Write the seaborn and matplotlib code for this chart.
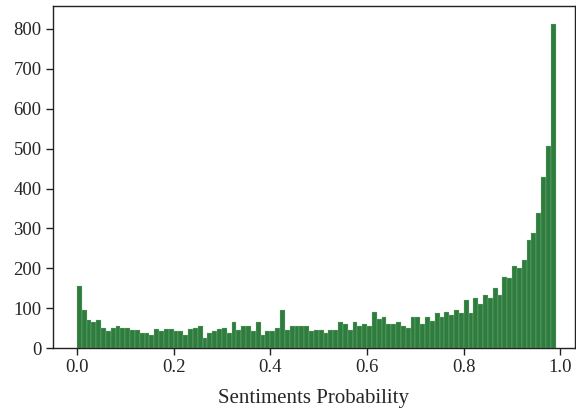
import numpy as np
import pandas as pd
import matplotlib
matplotlib.use("Agg")
import matplotlib.pyplot as plt
import seaborn as sns

# Histogram counts per 0.01-wide bin, starting at 0.00
counts = [156, 96, 70, 65, 70, 51, 43, 51, 55, 50,
          50, 47, 47, 38, 38, 33, 48, 43, 48, 48,
          43, 43, 33, 48, 51, 56, 25, 38, 43, 48,
          51, 38, 65, 46, 56, 56, 43, 67, 33, 43,
          43, 51, 96, 47, 55, 55, 55, 55, 43, 46,
          46, 38, 47, 47, 65, 60, 47, 66, 55, 60,
          56, 92, 73, 78, 60, 60, 65, 55, 51, 78,
          78, 60, 78, 69, 89, 79, 92, 84, 95, 88,
          120, 88, 125, 111, 133, 125, 151, 133, 178, 175,
          205, 200, 221, 270, 288, 339, 429, 507, 813]
bin_width = 0.01
bin_edges = [round(i * bin_width, 4) for i in range(len(counts) + 1)]
bin_centers = [(a + b) / 2 for a, b in zip(bin_edges[:-1], bin_edges[1:])]
x_ticks = [0.0, 0.2, 0.4, 0.6, 0.8, 1.0]
y_ticks = [0, 100, 200, 300, 400, 500, 600, 700, 800]
x_label = "Sentiments Probability"

df = pd.DataFrame({"prob": bin_centers, "count": counts})

sns.set_style("ticks")
plt.rcParams["font.family"] = ["Liberation Serif", "DejaVu Serif"]

fig = plt.figure(figsize=(5.76, 4.11), dpi=100)
ax = fig.add_axes([52.7 / 576, 1 - 348.3 / 411, (575 - 52.7) / 576, (348.3 - 6) / 411])

sns.histplot(data=df, x="prob", weights="count", bins=bin_edges, ax=ax,
             color="#2e7d3e", alpha=1.0, edgecolor="#9cc69c", linewidth=0.2)

ax.set_xlim(-0.05, 1.03)
ax.set_ylim(0, 857)
ax.set_xticks(x_ticks)
ax.set_xticklabels([f"{t:.1f}" for t in x_ticks])
ax.set_yticks(y_ticks)
ax.set_xlabel(x_label, fontsize=15, labelpad=9)
ax.set_ylabel("")
ax.tick_params(axis="both", labelsize=13.5, length=5, width=1, color="#222222", pad=3)
for s in ax.spines.values():
    s.set_linewidth(1.0)
    s.set_color("#222222")
    s.set_visible(True)

fig.savefig("out.png", dpi=100)
